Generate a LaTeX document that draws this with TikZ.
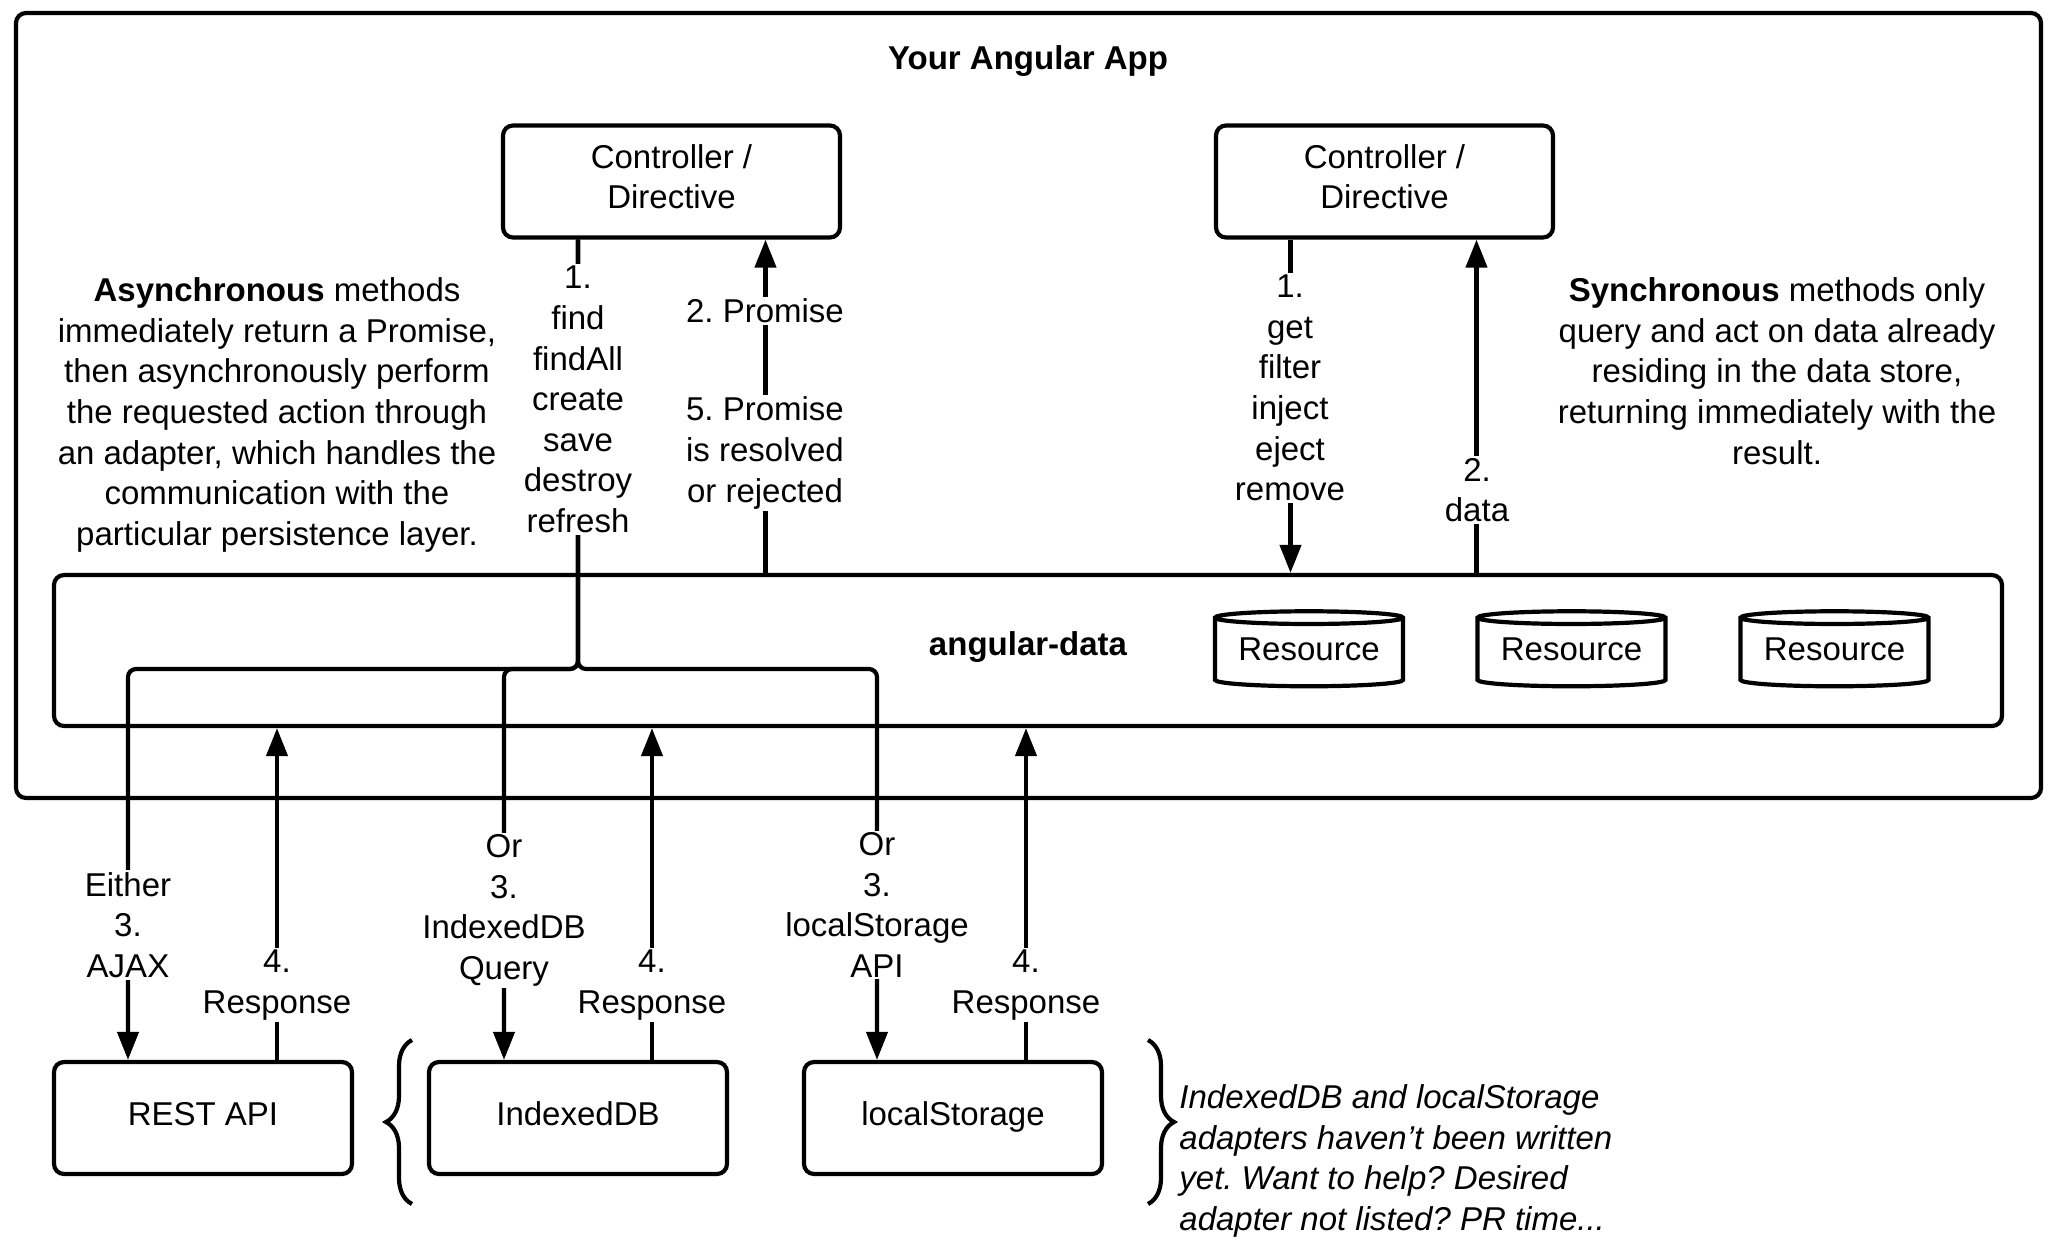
\documentclass[tikz,border=0pt]{standalone}
\usepackage{fontspec}
\setmainfont{Liberation Sans}
\usetikzlibrary{arrows.meta,shapes.geometric,decorations.pathreplacing}
\frenchspacing

\begin{document}
\begin{tikzpicture}[x=0.5pt,y=-0.5pt,
  every node/.style={font=\fontsize{16.5}{20.3}\selectfont},
  frame/.style={draw,line width=2.1pt,rounded corners=5pt},
  box/.style={frame,minimum width=168.5pt,minimum height=56pt,align=center,text height=11pt,text depth=4pt},
  twoline/.style={box,text height=31.3pt},
  store/.style={draw,line width=2.1pt,cylinder,shape border rotate=90,aspect=0.09,minimum width=94pt,minimum height=37.5pt,inner sep=0pt,text height=11pt,text depth=4pt},
  wire/.style={line width=2.1pt,-{Triangle[length=14pt,width=10.5pt]}},
  plain/.style={line width=2.1pt},
  lbl/.style={fill=white,inner sep=1pt,align=center},
  note/.style={align=center,inner sep=0pt}]
\useasboundingbox (0,0) rectangle (2058,1253);

% containers
\node[frame,minimum width=1012.5pt,minimum height=392.5pt] (app) at (1028.5,405.5) {};
\node[font=\fontsize{16.5}{20.3}\selectfont\bfseries] (apptitle) at (1028,61) {Your Angular App};
\node[frame,minimum width=974pt,minimum height=75.5pt] (data) at (1028,650.5) {};
\node[font=\fontsize{16.5}{20.3}\selectfont\bfseries] (datatitle) at (1028,647) {angular-data};

% controllers
\node[twoline] (ctrlA) at (671.5,181.5) {Controller /\\Directive};
\node[twoline] (ctrlB) at (1384.5,181.5) {Controller /\\Directive};

% resources
\node[store] (resA) at (1309,653) {Resource};
\node[store] (resB) at (1571.5,653) {Resource};
\node[store] (resC) at (1834.5,653) {Resource};

% adapters
\node[box,minimum width=149pt] (rest) at (203,1118) {REST API};
\node[box,minimum width=149pt] (idb) at (578,1118) {IndexedDB};
\node[box,minimum width=149pt] (local) at (953,1118) {localStorage};

% async calls
\coordinate (split) at (578,669);
\draw[wire,rounded corners=4pt] (ctrlA.south -| split) -- (split) -| ([xshift=-37.5pt]rest.north);
\draw[wire,rounded corners=4pt] (ctrlA.south -| split) -- (split) -| ([xshift=-37pt]idb.north);
\draw[wire,rounded corners=4pt] (ctrlA.south -| split) -- (split) -| ([xshift=-38pt]local.north);
\draw[wire] ([xshift=47pt]ctrlA.south |- data.north) -- ([xshift=47pt]ctrlA.south);
\draw[wire] ([xshift=37pt]rest.north) -- ([xshift=37pt]rest.north |- data.south);
\draw[wire] ([xshift=37pt]idb.north) -- ([xshift=37pt]idb.north |- data.south);
\draw[wire] ([xshift=36.5pt]local.north) -- ([xshift=36.5pt]local.north |- data.south);

% sync calls
\draw[wire] ([xshift=-47pt]ctrlB.south) -- ([xshift=-47pt]ctrlB.south |- data.north);
\draw[wire] ([xshift=46pt]ctrlB.south |- data.north) -- ([xshift=46pt]ctrlB.south);

% labels
\node[lbl] (callA) at (578,399.5) {1.\\find\\findAll\\create\\save\\destroy\\refresh};
\node[lbl] (promA) at (765,311) {2. Promise};
\node[lbl] (promB) at (765,453) {5. Promise\\is resolved\\or rejected};
\node[lbl] (callB) at (1290,388) {1.\\get\\filter\\inject\\eject\\remove};
\node[lbl] (retB) at (1477,490) {2.\\data};
\node[lbl] (ajax) at (128,925) {Either\\3.\\AJAX};
\node[lbl] (idbq) at (504,910.5) {Or\\3.\\IndexedDB\\Query};
\node[lbl] (lsapi) at (877,905) {Or\\3.\\localStorage\\API};
\node[lbl] (respA) at (277,985) {4.\\Response};
\node[lbl] (respB) at (652,985) {4.\\Response};
\node[lbl] (respC) at (1026,985) {4.\\Response};

% notes
\node[note] (async) at (277,415) {\textbf{Asynchronous} methods\\immediately return a Promise,\\then asynchronously perform\\the requested action through\\an adapter, which handles the\\communication with the\\particular persistence layer.};
\node[note] (sync) at (1777,371) {\textbf{Synchronous} methods only\\query and act on data already\\residing in the data store,\\returning immediately with the\\result.};
\draw[plain,decorate,decoration={brace,amplitude=13pt}] (412,1204) -- (412,1040);
\draw[plain,decorate,decoration={brace,amplitude=13pt}] (1148,1040) -- (1148,1204);
\node[note,align=left,anchor=west,font=\fontsize{16.5}{20.3}\selectfont\itshape] (todo) at (1179,1161) {IndexedDB and localStorage\\adapters haven't been written\\yet. Want to help? Desired\\adapter not listed? PR time...};
\end{tikzpicture}
\end{document}
